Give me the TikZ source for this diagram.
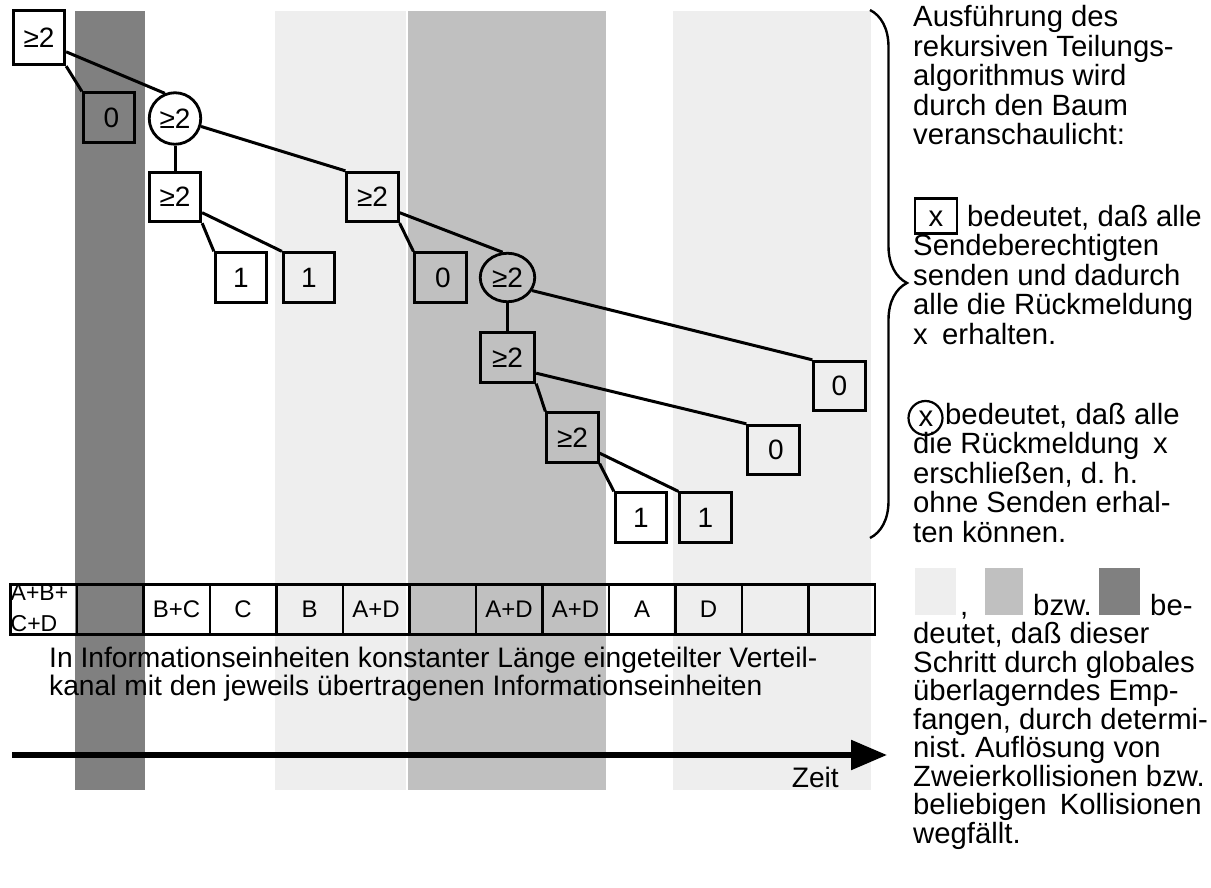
\documentclass[tikz,border=0pt]{standalone}
\usepackage{fontspec}
\setmainfont{Liberation Sans}
\usetikzlibrary{arrows.meta,calc,decorations.pathreplacing,shapes.geometric}
\definecolor{shadeL}{HTML}{EEEEEE}
\definecolor{shadeM}{HTML}{C0C0C0}
\definecolor{shadeD}{HTML}{808080}
\newcommand\setfs[1]{\fontsize{#1pt}{#1pt}\selectfont}
\frenchspacing

\begin{document}
\begin{tikzpicture}[x=1pt,y=-1pt,
  tbox/.style={draw,line width=2.8pt,minimum width=51.5pt,minimum height=49.5pt,inner sep=0pt,font=\setfs{28}},
  tcirc/.style={draw,line width=2.8pt,circle,minimum size=51.5pt,inner sep=0pt,font=\setfs{28}},
  tell/.style={draw,line width=2.8pt,ellipse,minimum width=54.5pt,minimum height=48.5pt,inner sep=0pt,font=\setfs{28}},
  tedge/.style={line width=3pt},
  cell/.style={draw,line width=2.6pt,minimum width=66.5pt,minimum height=50.5pt,inner sep=1pt,font=\setfs{24}},
  txt/.style={anchor=base west,inner sep=0pt,font=\setfs{29.3}},
  btxt/.style={anchor=base west,inner sep=0pt,font=\setfs{28.2}}]

\useasboundingbox (0,0) rectangle (1211,888);

% shaded time slots
\fill[shadeD] (75,11) rectangle (145,790);
\fill[shadeL] (275,11) rectangle (406,790);
\fill[shadeM] (408,11) rectangle (606,790);
\fill[shadeL] (673,11) rectangle (871,790);

% splitting tree
\node[tbox,minimum height=54.5pt] (root) at (39,37.5) {≥2};
\node[tbox] (z1) at (109,117.5) {\hspace{5pt}0};
\node[tcirc] (c1) at (175,118.5) {≥2};
\node[tbox] (b2) at (175,197) {≥2};
\node[tbox] (b3) at (372.5,197) {≥2};
\node[tbox] (o1) at (241,277.5) {1};
\node[tbox] (o2) at (309,277.5) {1};
\node[tbox] (z2) at (440.5,277.5) {\hspace{5pt}0};
\node[tell] (c2) at (507.5,277.5) {≥2};
\node[tbox,minimum width=54.5pt] (b4) at (507.5,357.5) {≥2};
\node[tbox] (b5) at (572.5,437.5) {≥2};
\node[tbox] (o3) at (641,517.5) {1};
\node[tbox] (o4) at (705.5,517.5) {1};
\node[tbox] (z3) at (773.5,450) {\hspace{5pt}0};
\node[tbox] (z4) at (839.5,386) {0};

\draw[tedge] (root.south east) -- (z1.north west);
\draw[tedge] ($(root.south east)!0.25!(root.north east)$) -- (c1.112);
\draw[tedge] (c1.south) -- (b2.north);
\draw[tedge] (c1.-17) -- (b3.north west);
\draw[tedge] (b2.south east) -- (o1.north west);
\draw[tedge] ($(b2.south east)!0.2!(b2.north east)$) -- (o2.north west);
\draw[tedge] (b3.south east) -- (z2.north west);
\draw[tedge] ($(b3.south east)!0.2!(b3.north east)$) -- (c2.101);
\draw[tedge] (c2.south) -- (b4.north);
\draw[tedge] (c2.-28) -- (z4.north west);
\draw[tedge] (b4.south east) -- (b5.north west);
\draw[tedge] ($(b4.south east)!0.2!(b4.north east)$) -- (z3.north west);
\draw[tedge] (b5.south east) -- (o3.north west);
\draw[tedge] ($(b5.south east)!0.2!(b5.north east)$) -- (o4.north west);

% channel divided into information units
\foreach \lab [count=\k] in {{},{},B+C,C,B,A+D,{},A+D,A+D,A,D,{},{}}
  \node[cell] (cell\k) at ({10.3+66.5*(\k-0.5)},609.5) {\lab};
\node[anchor=base west,inner sep=0pt,font=\setfs{23}] (abl1) at (10.5,600) {A+B+};
\node[anchor=base west,inner sep=0pt,font=\setfs{23}] (abl2) at (10.5,631.5) {C+D};

\node[btxt] (cap1) at (49,667) {In Informationseinheiten konstanter Länge eingeteilter Verteil-};
\node[btxt] (cap2) at (49,695) {kanal mit den jeweils übertragenen Informationseinheiten};

% time axis
\coordinate (t0) at (12,755);
\coordinate (t1) at (887,755);
\draw[line width=5.5pt,-{Triangle[length=36pt,width=29pt]}] (t0) -- (t1);
\node[anchor=base east,inner sep=0pt,font=\setfs{28.2}] (zeit) at (839,787) {Zeit};

% brace and explanation
\coordinate (bt) at (870,10);
\coordinate (bb) at (870,538);
\draw[line width=2.4pt,decorate,decoration={brace,amplitude=37pt,aspect=0.517}] (bt) -- (bb);

\node[txt] (r1) at (913,27) {Ausführung des};
\node[txt] (r2) at (913,56.5) {rekursiven Teilungs-};
\node[txt] (r3) at (913,86) {algorithmus wird};
\node[txt] (r4) at (913,115.5) {durch den Baum};
\node[txt] (r5) at (913,145) {veranschaulicht:};

\node[draw,line width=2.2pt,minimum width=42pt,minimum height=35pt,inner sep=0pt] (lbox) at (936,216) {};
\node[txt] (lboxx) at (928.5,226) {x};
\node[txt] (r6) at (967,226) {bedeutet, daß alle};
\node[txt] (r7) at (913,255.5) {Sendeberechtigten};
\node[txt] (r8) at (913,285) {senden und dadurch};
\node[txt] (r9) at (913,314.5) {alle die Rückmeldung};
\node[txt] (r10a) at (913,344) {x};
\node[txt] (r10b) at (942,344) {erhalten.};

\node[draw,circle,line width=2.2pt,minimum size=34pt,inner sep=0pt] (lcirc) at (925.5,418) {};
\node[txt] (lcircx) at (918.5,426) {x};
\node[txt] (r11) at (945,424) {bedeutet, daß alle};
\node[txt] (r12a) at (913,453.5) {die Rückmeldung};
\node[txt] (r12b) at (1153,453.5) {x};
\node[txt] (r13) at (913,483) {erschließen, d. h.};
\node[txt] (r14) at (913,512.5) {ohne Senden erhal-};
\node[txt] (r15) at (913,542) {ten können.};

\fill[shadeL] (915,568) rectangle (956,615);
\fill[shadeM] (985,568) rectangle (1023,615);
\fill[shadeD] (1099,568) rectangle (1140,615);
\node[txt] (r16a) at (960,615) {,};
\node[txt] (r16b) at (1033,615) {bzw.};
\node[txt] (r16c) at (1150,615) {be-};
\node[txt] (r17) at (913,643.5) {deutet, daß dieser};
\node[txt] (r18) at (913,672) {Schritt durch globales};
\node[txt] (r19) at (913,700.5) {überlagerndes Emp-};
\node[txt] (r20) at (913,729) {fangen, durch determi-};
\node[txt] (r21) at (913,757.5) {nist. Auflösung von};
\node[txt] (r22) at (913,786) {Zweierkollisionen bzw.};
\node[txt] (r23) at (913,814.5) {beliebigen\hspace{5pt} Kollisionen};
\node[txt] (r24) at (913,843) {wegfällt.};
\end{tikzpicture}
\end{document}
